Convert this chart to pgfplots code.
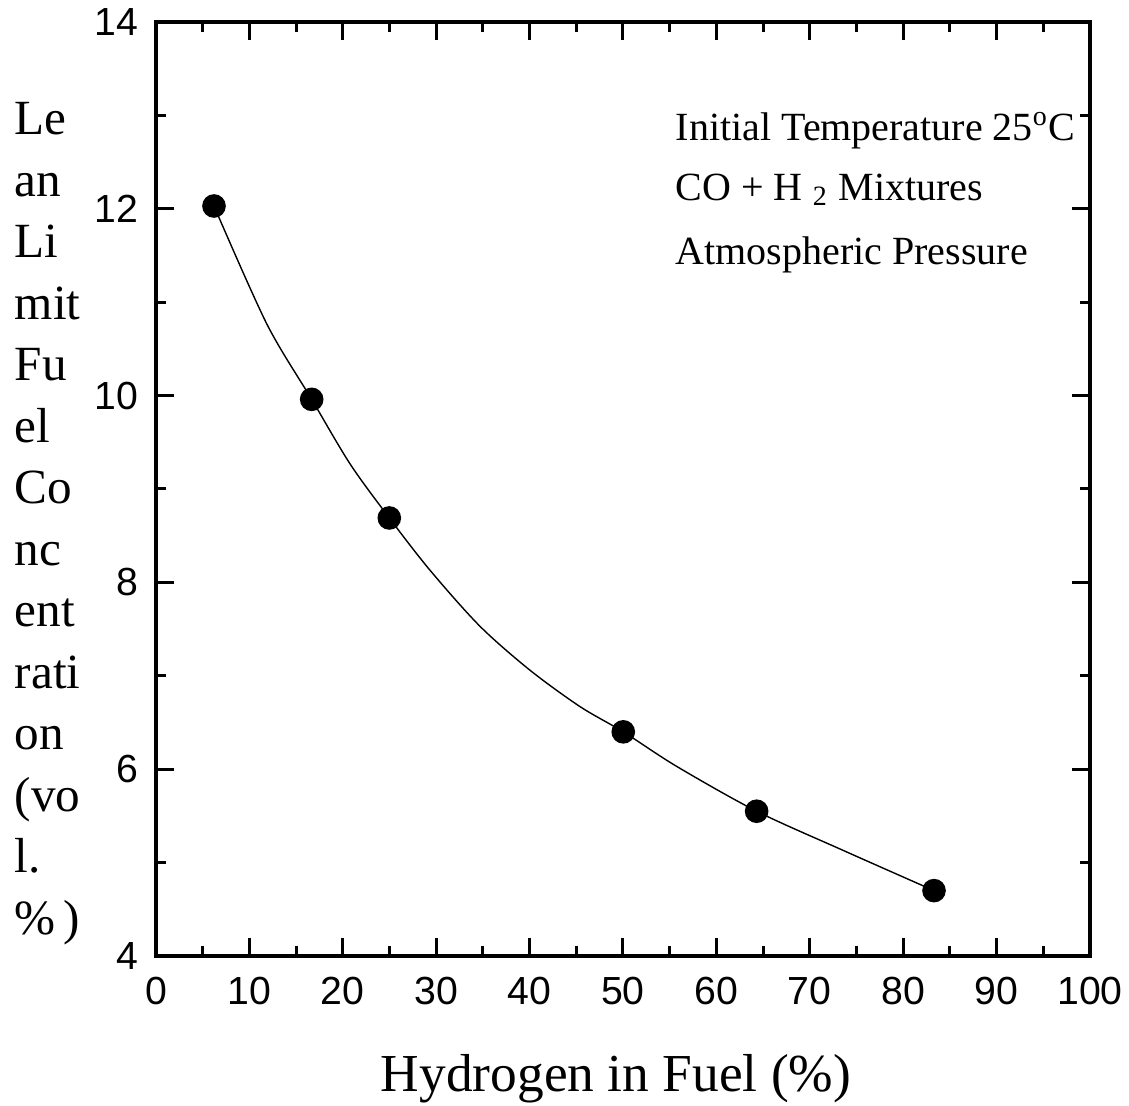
\documentclass[border=0pt]{standalone}
\usepackage{pgfplots}
\pgfplotsset{compat=1.18}
\usepackage{fontspec}
\setmainfont{Liberation Serif}
\newfontfamily\arial{Liberation Sans}
\begin{document}
\begin{tikzpicture}
\path[use as bounding box] (-39pt,-37.5pt) rectangle (243.25pt,239pt);
\begin{axis}[
  at={(0,0)}, anchor=south west,
  scale only axis, width=233.5pt, height=233.5pt,
  xmin=0, xmax=100, ymin=4, ymax=14,
  xtick={0,10,...,100}, ytick={4,6,...,14},
  minor xtick={5,15,...,95}, minor ytick={5,7,...,13},
  tick align=inside, xtick pos=both, ytick pos=both,
  major tick length=4.5pt, minor tick length=2.5pt,
  axis line style={line width=1pt},
  every tick/.style={black, line width=0.75pt},
  /pgf/number format/assume math mode=true,
  ticklabel style={font=\arial\fontsize{9.8pt}{11pt}\selectfont},
  xticklabel style={yshift=-1.8pt},
  yticklabel style={xshift=-1.0pt},
  clip=false,
]
% curve
\addplot[black, line width=0.35pt, smooth, no marks] coordinates {
  (6.21,12.03) (11.85,10.77) (16.67,9.96) (20.77,9.27) (24.98,8.69)
  (29.34,8.13) (34.69,7.53) (40.04,7.06) (45.40,6.67) (50.03,6.40)
  (55.75,6.03) (64.31,5.55) (73.59,5.13) (83.30,4.70)
};
\addplot[only marks, mark=*, mark size=2.75pt, black] coordinates {
  (6.21,12.03) (16.67,9.96) (24.98,8.69) (50.03,6.40) (64.31,5.55) (83.30,4.70)
};
\end{axis}
\node[inner sep=0pt, anchor=base west, font=\fontsize{12.3pt}{13pt}\selectfont] at (-35.5pt,205.25pt) {Le};
\node[inner sep=0pt, anchor=base west, font=\fontsize{12.3pt}{13pt}\selectfont] at (-35.5pt,189.875pt) {an};
\node[inner sep=0pt, anchor=base west, font=\fontsize{12.3pt}{13pt}\selectfont] at (-35.5pt,174.5pt) {Li};
\node[inner sep=0pt, anchor=base west, font=\fontsize{12.3pt}{13pt}\selectfont] at (-35.5pt,159.125pt) {mit};
\node[inner sep=0pt, anchor=base west, font=\fontsize{12.3pt}{13pt}\selectfont] at (-35.5pt,143.75pt) {Fu};
\node[inner sep=0pt, anchor=base west, font=\fontsize{12.3pt}{13pt}\selectfont] at (-35.5pt,128.375pt) {el};
\node[inner sep=0pt, anchor=base west, font=\fontsize{12.3pt}{13pt}\selectfont] at (-35.5pt,113pt) {Co};
\node[inner sep=0pt, anchor=base west, font=\fontsize{12.3pt}{13pt}\selectfont] at (-35.5pt,97.625pt) {nc};
\node[inner sep=0pt, anchor=base west, font=\fontsize{12.3pt}{13pt}\selectfont] at (-35.5pt,82.25pt) {ent};
\node[inner sep=0pt, anchor=base west, font=\fontsize{12.3pt}{13pt}\selectfont] at (-35.5pt,66.875pt) {rati};
\node[inner sep=0pt, anchor=base west, font=\fontsize{12.3pt}{13pt}\selectfont] at (-35.5pt,51.5pt) {on};
\node[inner sep=0pt, anchor=base west, font=\fontsize{12.3pt}{13pt}\selectfont] at (-35.5pt,36.125pt) {(vo};
\node[inner sep=0pt, anchor=base west, font=\fontsize{12.3pt}{13pt}\selectfont] at (-35.5pt,20.75pt) {l.};
\node[inner sep=0pt, anchor=base west, font=\fontsize{12.3pt}{13pt}\selectfont] at (-35.5pt,5.375pt) {\%\,)};
\node[inner sep=0pt, anchor=base, font=\fontsize{13.35pt}{16pt}\selectfont] at (115pt,-34pt) {Hydrogen in Fuel (\%)};
\node[inner sep=0pt, anchor=base west, font=\fontsize{10pt}{11pt}\selectfont] at (129.75pt,204pt) {Initial Temperature 25\textsuperscript{o}C};
\node[inner sep=0pt, anchor=base west, font=\fontsize{10pt}{11pt}\selectfont] at (129.75pt,189pt) {CO + H \textsubscript{2} Mixtures};
\node[inner sep=0pt, anchor=base west, font=\fontsize{10pt}{11pt}\selectfont] at (129.75pt,172.75pt) {Atmospheric Pressure};
\end{tikzpicture}
\end{document}
